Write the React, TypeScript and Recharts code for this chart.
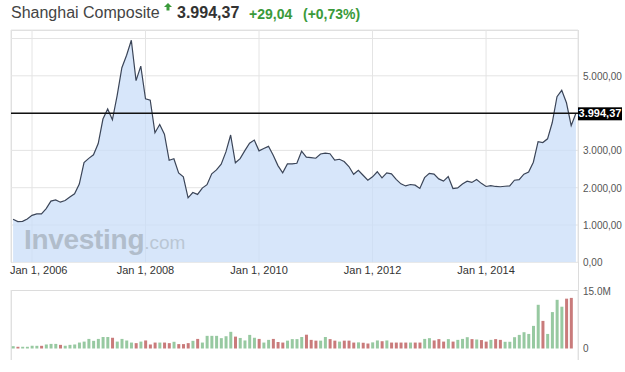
import React from "react";
import {
  AreaChart,
  Area,
  BarChart,
  Bar,
  Cell,
  XAxis,
  YAxis,
  CartesianGrid,
  ReferenceLine,
} from "recharts";

// monthly closes, Shanghai Composite (2005 starts in September, 2015 ends in August)
const close2005 = [1155, 1092, 1099, 1161];
const close2006 = [1258, 1299, 1298, 1440, 1641, 1672, 1612, 1658, 1752, 1837, 2099, 2675];
const close2007 = [2786, 2881, 3183, 3841, 4109, 3820, 4471, 5218, 5552, 5954, 4871, 5261];
const close2008 = [4383, 4348, 3472, 3693, 3433, 2736, 2775, 2397, 2293, 1728, 1871, 1820];
const close2009 = [1990, 2082, 2373, 2477, 2632, 2959, 3412, 2667, 2779, 2995, 3195, 3277];
const close2010 = [2989, 3051, 3109, 2870, 2592, 2398, 2638, 2638, 2655, 2978, 2820, 2808];
const close2011 = [2790, 2905, 2928, 2911, 2743, 2762, 2701, 2567, 2359, 2468, 2333, 2199];
const close2012 = [2292, 2428, 2262, 2396, 2372, 2225, 2103, 2047, 2086, 2068, 1980, 2269];
const close2013 = [2385, 2365, 2236, 2177, 2300, 1979, 1994, 2098, 2174, 2141, 2220, 2116];
const close2014 = [2033, 2056, 2033, 2026, 2039, 2048, 2201, 2217, 2364, 2420, 2683, 3235];
const close2015 = [3210, 3310, 3748, 4441, 4612, 4277, 3664, 3994.37];

// monthly volume in millions (no bar yet for the running month)
const vol2005 = [0.6, 0.45, 0.45, 0.45];
const vol2006 = [0.7, 0.7, 0.7, 1.05, 1.2, 1.2, 0.95, 0.7, 0.95, 1.05, 1.55, 1.8];
const vol2007 = [2.5, 2.0, 2.5, 3.0, 3.0, 2.8, 1.8, 2.5, 2.1, 1.55, 1.4, 1.8];
const vol2008 = [2.1, 1.05, 1.55, 1.55, 1.55, 1.4, 1.75, 1.15, 1.15, 1.4, 2.0, 2.5];
const vol2009 = [1.55, 3.3, 3.3, 3.3, 2.7, 3.2, 4.35, 3.1, 2.75, 2.1, 3.55, 2.8];
const vol2010 = [2.5, 1.55, 2.25, 2.5, 1.7, 1.55, 2.05, 2.45, 2.45, 3.0, 3.6, 2.25];
const vol2011 = [2.05, 2.05, 3.0, 2.45, 2.05, 1.8, 2.05, 2.05, 1.55, 1.6, 1.5, 1.3];
const vol2012 = [1.6, 2.1, 1.9, 2.1, 1.55, 1.55, 1.55, 1.55, 1.55, 1.55, 1.55, 2.5];
const vol2013 = [2.7, 2.1, 2.45, 1.8, 2.45, 1.8, 2.25, 2.5, 2.95, 2.45, 2.35, 2.2];
const vol2014 = [1.8, 2.25, 2.45, 2.25, 1.75, 1.75, 2.95, 3.55, 4.25, 3.8, 5.9, 11.4];
const vol2015 = [7.2, 3.8, 9.5, 12.7, 10.9, 13.0, 13.2];

const years = [2005, 2006, 2007, 2008, 2009, 2010, 2011, 2012, 2013, 2014, 2015];
const closesByYear = [close2005, close2006, close2007, close2008, close2009, close2010, close2011, close2012, close2013, close2014, close2015];
const volsByYear = [vol2005, vol2006, vol2007, vol2008, vol2009, vol2010, vol2011, vol2012, vol2013, vol2014, vol2015];
const firstMonth = 8; // September 2005 (0-based)

const xTicks = [0, 24, 48, 72, 96]; // months since Jan 2006
const xTickLabels = ["Jan 1, 2006", "Jan 1, 2008", "Jan 1, 2010", "Jan 1, 2012", "Jan 1, 2014"];
const priceTicks = [0, 1000, 2000, 3000, 4000, 5000, 6000];
const priceLabelTicks = [0, 1000, 2000, 3000, 5000];
const volTicks = [0, 15];
const volTickLabels = ["0", "15.0M"];

const lastPrice = 3994.37;

// build rows
const priceData: { t: number; close: number }[] = [];
const volData: { t: number; vol: number; up: boolean }[] = [];
years.forEach((yr, yi) => {
  const start = yi === 0 ? firstMonth : 0;
  closesByYear[yi].forEach((c, k) => {
    priceData.push({ t: (yr - 2006) * 12 + start + k, close: c });
  });
});
let vi = 0;
years.forEach((yr, yi) => {
  const start = yi === 0 ? firstMonth : 0;
  volsByYear[yi].forEach((v, k) => {
    const prev = vi > 0 ? priceData[vi - 1].close : priceData[0].close;
    volData.push({ t: (yr - 2006) * 12 + start + k, vol: v, up: priceData[vi].close >= prev });
    vi++;
  });
});

const xDomain = [-4.44, 115.44];
const FONT = "Arial, 'Liberation Sans', sans-serif";
const GRID = "#e4e4e4";

const fmt = (n: number) => {
  const [i, d] = n.toFixed(2).split(".");
  return i.replace(/\B(?=(\d{3})+(?!\d))/g, ".") + "," + d;
};

const PriceTick = (props: any) => {
  const { x, y, payload } = props;
  if (!priceLabelTicks.includes(payload.value)) return <g />;
  return (
    <text x={x} y={y} dy={4} fontSize={10} fill="#555" fontFamily={FONT} textAnchor="start">
      {fmt(payload.value)}
    </text>
  );
};

const VolTick = (props: any) => {
  const { x, y, payload } = props;
  return (
    <text x={x} y={y} dy={4} fontSize={10} fill="#555" fontFamily={FONT} textAnchor="start">
      {volTickLabels[volTicks.indexOf(payload.value)]}
    </text>
  );
};

const DateTick = (props: any) => {
  const { x, y, payload } = props;
  const idx = xTicks.indexOf(payload.value);
  // first label is kept inside the plot's left edge
  const first = idx === 0;
  return (
    <text
      x={first ? 10 : x}
      y={y}
      dy={8}
      fontSize={11}
      fill="#333"
      fontFamily={FONT}
      textAnchor={first ? "start" : "middle"}
    >
      {xTickLabels[idx]}
    </text>
  );
};

const PriceTag = (props: any) => {
  const vb = props.viewBox || {};
  const x = vb.x + vb.width;
  const y = vb.y;
  return (
    <g>
      <rect x={x} y={y - 6} width={44} height={13} fill="#000" />
      <text x={x + 22} y={y + 4} fontSize={11} fontWeight="bold" fill="#fff" textAnchor="middle" fontFamily={FONT}>
        {fmt(lastPrice)}
      </text>
    </g>
  );
};

const line = (s: React.CSSProperties) => (
  <div style={{ position: "absolute", background: "#dcdcdc", ...s }} />
);

export default function App() {
  const green = "#3a9a3a";
  return (
    <div
      style={{
        position: "absolute",
        left: 0,
        top: 0,
        width: 625,
        height: 372,
        background: "#fff",
        fontFamily: FONT,
        overflow: "hidden",
      }}
    >
      {/* header */}
      <div style={{ position: "absolute", top: 3, left: 11, fontSize: 16, color: "#444", whiteSpace: "nowrap", lineHeight: "20px" }}>
        Shanghai Composite
      </div>
      <svg style={{ position: "absolute", left: 164, top: 3 }} width={8} height={8}>
        <path d="M4 0 L8 4 L5.5 4 L5.5 7.5 L2.5 7.5 L2.5 4 L0 4 Z" fill={green} />
      </svg>
      <div style={{ position: "absolute", top: 3, left: 177, fontSize: 16, fontWeight: "bold", color: "#333", lineHeight: "20px" }}>
        {fmt(lastPrice)}
      </div>
      <div style={{ position: "absolute", top: 4, left: 249, fontSize: 14, fontWeight: "bold", color: green, lineHeight: "20px" }}>
        +29,04
      </div>
      <div style={{ position: "absolute", top: 4, left: 303, fontSize: 14, fontWeight: "bold", color: green, lineHeight: "20px" }}>
        (+0,73%)
      </div>

      {/* frame lines */}
      {line({ left: 11, top: 30, width: 567, height: 1 })}
      {line({ left: 11, top: 30, width: 1, height: 233 })}
      {line({ left: 578, top: 30, width: 1, height: 330 })}
      {line({ left: 11, top: 290, width: 567, height: 1 })}
      {line({ left: 11, top: 290, width: 1, height: 70 })}

      {/* price chart */}
      <div style={{ position: "absolute", left: 0, top: 0 }}>
        <AreaChart
          width={625}
          height={290}
          data={priceData}
          margin={{ top: 30, right: 0, left: 11, bottom: 7.7 }}
        >
          <CartesianGrid stroke={GRID} />
          <XAxis
            dataKey="t"
            type="number"
            domain={xDomain}
            ticks={xTicks}
            allowDataOverflow
            axisLine={false}
            tickLine={false}
            tickSize={2}
            height={20}
            tick={<DateTick />}
          />
          <YAxis
            orientation="right"
            width={47}
            domain={[0, 6228]}
            ticks={priceTicks}
            allowDataOverflow
            axisLine={false}
            tickLine={false}
            tickSize={3}
            tickMargin={2}
            tick={<PriceTick />}
          />
          <Area
            type="linear"
            dataKey="close"
            stroke="#3b4558"
            strokeWidth={1.2}
            fill="#c9def8"
            fillOpacity={0.75}
            dot={false}
            activeDot={false}
            isAnimationActive={false}
          />
          <ReferenceLine
            y={lastPrice}
            stroke="#111"
            strokeWidth={1.4}
            label={(p: any) => <PriceTag {...p} />}
          />
        </AreaChart>
      </div>

      {/* watermark */}
      <div
        style={{
          position: "absolute",
          left: 24,
          top: 224,
          whiteSpace: "nowrap",
          color: "#b1bdcb",
          lineHeight: "32px",
        }}
      >
        <span style={{ fontSize: 28, fontWeight: "bold", letterSpacing: -0.3 }}>Investing</span>
        <span style={{ fontSize: 19, color: "#bac6d4" }}>.com</span>
      </div>

      {/* volume chart */}
      <div style={{ position: "absolute", left: 0, top: 280 }}>
        <BarChart
          width={625}
          height={92}
          data={volData}
          margin={{ top: 10, right: 0, left: 11, bottom: 12 }}
        >
          <CartesianGrid stroke={GRID} horizontal={false} />
          <XAxis
            dataKey="t"
            type="number"
            domain={xDomain}
            ticks={xTicks}
            allowDataOverflow
            height={0}
            tick={false}
            axisLine={false}
            tickLine={false}
          />
          <YAxis
            orientation="right"
            width={47}
            domain={[-3.0, 15.26]}
            ticks={volTicks}
            allowDataOverflow
            axisLine={false}
            tickLine={false}
            tickSize={3}
            tickMargin={2}
            tick={<VolTick />}
          />
          <Bar dataKey="vol" barSize={3} isAnimationActive={false}>
            {volData.map((d, i) => (
              <Cell key={i} fill={d.up ? "#97c9a1" : "#c97b7b"} />
            ))}
          </Bar>
        </BarChart>
      </div>
    </div>
  );
}
